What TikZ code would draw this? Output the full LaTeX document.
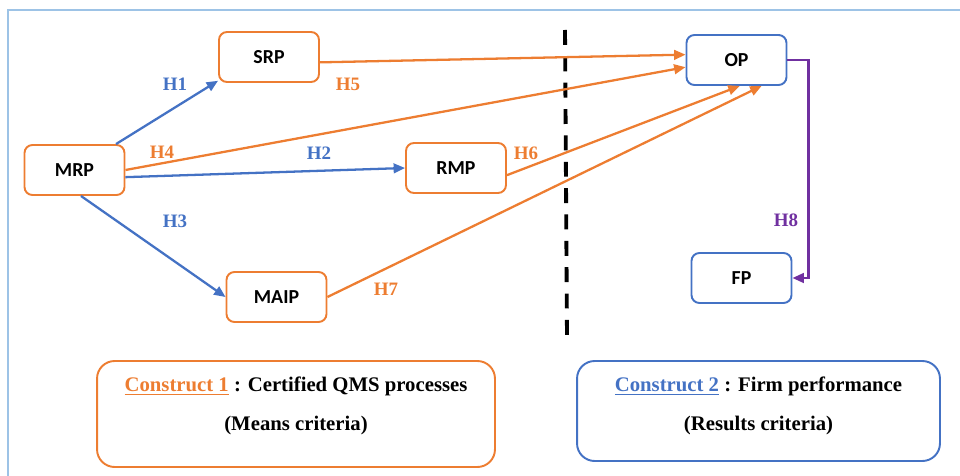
\documentclass[tikz,border=0pt]{standalone}
\usepackage{fontspec}
\setmainfont{Liberation Serif}
\newfontfamily\boxfont{Carlito}
\usetikzlibrary{arrows.meta}
\definecolor{qorange}{HTML}{ED7D31}
\definecolor{qblue}{HTML}{4472C4}
\definecolor{qpurple}{HTML}{7030A0}
\definecolor{qframe}{HTML}{9DC3E6}

\begin{document}
\begin{tikzpicture}[x=0.02cm, y=-0.02cm,
  proc/.style={draw=qorange, line width=1.1pt, rounded corners=4.5pt,
    minimum width=2cm, minimum height=1cm,
    font=\boxfont\bfseries\fontsize{11.3}{13}\selectfont},
  perf/.style={proc, draw=qblue},
  hyp/.style={font=\bfseries\fontsize{10.8}{12}\selectfont},
  link/.style={line width=1.3pt, -{Triangle[length=6.5pt,width=5.5pt]}},
  constructbox/.style={line width=1.1pt, rounded corners=10pt},
  constructtext/.style={align=center, font=\bfseries\fontsize{11.8}{22.5}\selectfont}
]
  \useasboundingbox (0,0) rectangle (960,476);
  % Frame
  \draw[qframe, line width=0.6pt] (8,476) -- (8,10) -- (960,10);

  % Construct 1 nodes
  \node[proc] (srp) at (269,57) {SRP};
  \node[proc] (mrp) at (74.5,170) {MRP};
  \node[proc] (rmp) at (456,168) {RMP};
  \node[proc] (maip) at (276.5,297) {MAIP};
  % Construct 2 nodes
  \node[perf] (op) at (736.5,60) {OP};
  \node[perf] (fp) at (741.5,278) {FP};

  % Divider
  \draw[line width=2.2pt, dash pattern=on 8.5pt off 6.5pt] (565,30) -- (567,337);

  % Blue paths
  \draw[link, qblue] (mrp.32) -- (srp.205);
  \draw[link, qblue] (mrp.-8) -- (rmp.west);
  \draw[link, qblue] (mrp.-76) -- (maip.west);
  % Orange paths
  \draw[link, qorange] (mrp.east) -- (op.188);
  \draw[link, qorange] (srp.-6) -- (op.174);
  \draw[link, qorange] (rmp.-8) -- (op.-83);
  \draw[link, qorange] (maip.east) -- (op.-46);
  % Purple path
  \draw[link, qpurple] (op.east) -- ++(21,0) |- (fp.east);

  % Hypotheses
  \node[hyp, qblue] (h1) at (175,84) {H1};
  \node[hyp, qblue] (h2) at (319,153) {H2};
  \node[hyp, qblue] (h3) at (175,221) {H3};
  \node[hyp, qorange] (h4) at (162,152) {H4};
  \node[hyp, qorange] (h5) at (348,84) {H5};
  \node[hyp, qorange] (h6) at (526,153) {H6};
  \node[hyp, qorange] (h7) at (386,289) {H7};
  \node[hyp, qpurple] (h8) at (786,220) {H8};

  % Constructs
  \node[constructbox, draw=qorange, minimum width=7.96cm, minimum height=2.12cm] (c1) at (296,414) {};
  \node[constructtext] (c1txt) at (296,406)
    {{\color{qorange}\underline{Construct 1}} : Certified QMS processes\\(Means criteria)};
  \node[constructbox, draw=qblue, minimum width=7.26cm, minimum height=2cm] (c2) at (758.5,411) {};
  \node[constructtext] (c2txt) at (758.5,406)
    {{\color{qblue}\underline{Construct 2}} : Firm performance\\(Results criteria)};
\end{tikzpicture}
\end{document}
